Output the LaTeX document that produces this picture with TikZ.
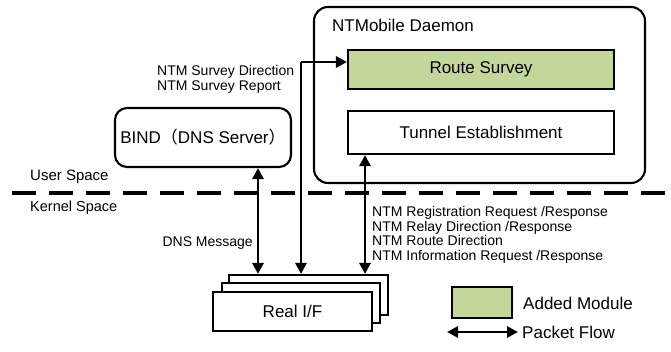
\documentclass[tikz,border=0pt]{standalone}
\usepackage{fontspec}
\setmainfont{Liberation Sans}
\newfontfamily\cjk{Noto Sans CJK JP}
\usetikzlibrary{arrows.meta}
\definecolor{addgreen}{HTML}{C4D79B}
\tikzset{
  bigtxt/.style={font=\fontsize{17}{20}\selectfont},
  smalltxt/.style={font=\fontsize{14}{14.8}\selectfont, inner sep=0pt, align=left},
  boxline/.style={draw=black, line width=2.1pt},
  flow/.style={line width=2.8pt, {Triangle[length=11pt,width=11pt]}-{Triangle[length=11pt,width=11pt]}},
  flowend/.style={line width=2.8pt, -{Triangle[length=11pt,width=11pt]}},
  divider/.style={line width=4.2pt, dash pattern=on 24pt off 13pt}
}
\begin{document}
\begin{tikzpicture}[x=1pt,y=-1pt]
\useasboundingbox (0,0) rectangle (671,352);
% daemon
\draw[boxline, rounded corners=14pt] (314,7) rectangle (645,183);
\node[bigtxt, anchor=west, inner sep=0pt] (daemonlbl) at (332,25) {NTMobile Daemon};
\node[boxline, fill=addgreen, minimum width=266pt, minimum height=39pt, bigtxt, inner sep=0pt] (survey) at (481,69.5) {Route Survey};
\node[boxline, fill=white, minimum width=266pt, minimum height=43pt, bigtxt, inner sep=0pt] (tunnel) at (481,132.5) {Tunnel Establishment};
% bind
\node[boxline, rounded corners=12pt, minimum width=176pt, minimum height=59pt, bigtxt, inner sep=0pt] (bind) at (203,137.5) {BIND{\cjk（}DNS Server{\cjk）}};
% divider
\draw[divider] (12,193) -- (671,193);
\node[smalltxt, font=\fontsize{15}{16}\selectfont, anchor=west] (user) at (30,177) {User Space};
\node[smalltxt, font=\fontsize{14.5}{16}\selectfont, anchor=west] (kernel) at (30,208) {Kernel Space};
% real I/F stack
\node[boxline, fill=white, minimum width=159pt, minimum height=40pt, inner sep=0pt] (rif3) at (308.5,295) {};
\node[boxline, fill=white, minimum width=158pt, minimum height=40pt, inner sep=0pt] (rif2) at (301,303) {};
\node[boxline, fill=white, minimum width=159pt, minimum height=39pt, bigtxt, inner sep=0pt] (rif1) at (292.5,311.5) {Real I/F};
% connectors
\draw[flow] (bind.south -| 258,0) -- (rif3.north -| 258,0);
\coordinate (bend) at (301,62);
\draw[flowend] (bend) -- (bend -| survey.west);
\draw[flowend] (bend) -- (rif3.north -| bend);
\draw[flow] (tunnel.south -| 365,0) -- (rif3.north -| 365,0);
% labels
\node[smalltxt, anchor=west] (surveylbl) at (157,79.5) {NTM Survey Direction\\NTM Survey Report};
\node[smalltxt, anchor=east] (dnslbl) at (253,243) {DNS Message};
\node[smalltxt, anchor=north west] (ntmlbl) at (372,206) {NTM Registration Request /Response\\NTM Relay Direction /Response\\NTM Route Direction\\NTM Information Request /Response};
% legend
\node[boxline, fill=addgreen, minimum width=60pt, minimum height=31pt, inner sep=0pt] (legbox) at (482,302.5) {};
\node[bigtxt, anchor=west, inner sep=0pt] (leglbl) at (523,303) {Added Module};
\coordinate (pfa) at (447,332);
\coordinate (pfb) at (518,332);
\draw[flow] (pfa) -- (pfb);
\node[bigtxt, anchor=west, inner sep=0pt] (pflbl) at (522,332) {Packet Flow};
\end{tikzpicture}
\end{document}
